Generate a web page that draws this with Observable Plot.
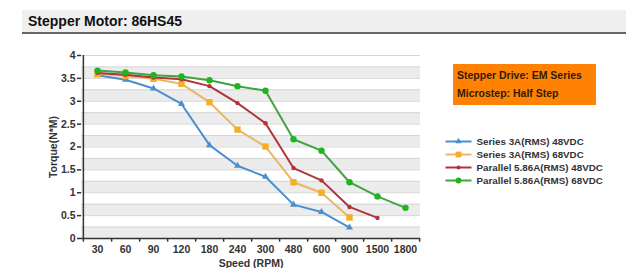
<!DOCTYPE html>
<html><head><meta charset="utf-8">
<script src="https://cdn.jsdelivr.net/npm/d3@7"></script>
<script src="https://cdn.jsdelivr.net/npm/@observablehq/plot@0.6"></script>
<style>
body{margin:0;background:#fff;font-family:"Liberation Sans",Arial,sans-serif;}
#wrap{position:relative;width:626px;height:268px;overflow:hidden;}
#title{position:absolute;left:22px;top:10px;width:604px;height:22px;background:#efefef;border-bottom:2px solid #666;box-sizing:content-box;}
#title span{position:absolute;left:6px;top:3px;font-size:14px;font-weight:bold;color:#111;}
#chart{position:absolute;left:0;top:34px;}
#box{position:absolute;left:453px;top:64px;width:143px;height:41px;background:#ff8204;font-size:10.5px;font-weight:bold;color:#2e1c06;}
#box div{position:absolute;left:4px;white-space:nowrap;}
#legend{position:absolute;left:440px;top:132px;}
</style></head>
<body><div id="wrap">
<div id="title"><span>Stepper Motor: 86HS45</span></div>
<div id="chart"></div>
<div id="box"><div style="top:5px">Stepper Drive: EM Series</div><div style="top:23px">Microstep: Half Step</div></div>
<div id="legend"></div>
</div>
<script>
const categories = ["30","60","90","120","180","240","300","480","600","900","1500","1800"];
const seriesNames = ["Series 3A(RMS) 48VDC","Series 3A(RMS) 68VDC","Parallel 5.86A(RMS) 48VDC","Parallel 5.86A(RMS) 68VDC"];
const series3A48 = [3.57,3.47,3.28,2.94,2.04,1.59,1.35,0.74,0.58,0.24];
const series3A68 = [3.60,3.55,3.49,3.38,2.98,2.38,2.01,1.23,1.00,0.46];
const parallel48 = [3.62,3.58,3.52,3.48,3.33,2.96,2.52,1.54,1.27,0.69,0.45];
const parallel68 = [3.67,3.63,3.57,3.54,3.46,3.33,3.23,2.17,1.92,1.23,0.92,0.67];
const yTicks = [0,0.5,1,1.5,2,2.5,3,3.5,4];

const lineColors = ["#4a8fcf","#e6b866","#b0343c","#42a342"];
const dotColors = ["#4a8fcf","#f4ae2a","#b0343c","#1fb51f"];
const symbols = ["triangle","square","circle","circle"];
const radii = [2.6,3.6,2.2,3.2];

const allValues = [series3A48, series3A68, parallel48, parallel68];
const data = allValues.flatMap((vals,i)=>vals.map((v,j)=>({speed:categories[j], torque:v, series:seriesNames[i], idx:i})));

const bands = d3.range(0,16).map(k=>({lo:k*0.25, hi:(k+1)*0.25, grey:k%2===0}));
const W=626, H=234, mL=81, mR=206;
const bw = (W-mL-mR)/categories.length;

const font = {fontFamily:"'Liberation Sans',Arial,sans-serif", fontSize:"10.5px", fontWeight:"bold", color:"#333", background:"transparent"};

const marks = [
  Plot.rect(bands.filter(d=>d.grey), {y1:"lo", y2:"hi", fill:"#ececec"}),
  Plot.ruleY(bands.map(d=>d.hi), {stroke:"#d6d6d6", strokeWidth:1}),
  Plot.axisY({ticks:yTicks, tickSize:4, tickPadding:2, tickFormat:d=>String(d), label:"Torque(N*M)", labelAnchor:"center", labelArrow:"none", labelOffset:32, stroke:"#333", strokeWidth:1.5}),
  Plot.axisX({tickSize:0, tickPadding:7, label:"Speed (RPM)", labelAnchor:"center", labelArrow:"none", labelOffset:28}),
  Plot.ruleX(categories, {x:d=>d, dx:bw/2, y1:0, y2:-0.08, stroke:"#333", strokeWidth:1.5}),
  Plot.ruleX([categories[0]], {x:d=>d, dx:-bw/2, y1:-0.08, y2:4, stroke:"#333", strokeWidth:1.5}),
  Plot.ruleY([0], {stroke:"#333", strokeWidth:1.5})
];
seriesNames.forEach((s,i)=>{
  const d = data.filter(r=>r.idx===i);
  marks.push(Plot.line(d, {x:"speed", y:"torque", stroke:lineColors[i], strokeWidth:2}));
  marks.push(Plot.dot(d, {x:"speed", y:"torque", fill:dotColors[i], symbol:symbols[i], r:radii[i], stroke:"none"}));
});

const chart = Plot.plot({
  width:W, height:H, marginLeft:mL, marginRight:mR, marginTop:21, marginBottom:30,
  style:font,
  x:{type:"band", domain:categories, padding:0},
  y:{domain:[0,4]},
  marks
});
document.getElementById("chart").append(chart);

// legend
const legendRows = seriesNames.map((s,i)=>({name:s, i}));
const lm = [];
legendRows.forEach(r=>{
  lm.push(Plot.link([r], {x1:()=>5, x2:()=>31, y1:"name", y2:"name", stroke:lineColors[r.i], strokeWidth:2}));
  lm.push(Plot.dot([r], {x:()=>18, y:"name", fill:dotColors[r.i], symbol:symbols[r.i], r:radii[r.i]*0.9}));
});
lm.push(Plot.text(legendRows, {x:()=>36, y:"name", text:"name", textAnchor:"start", fill:"#333"}));
const legend = Plot.plot({
  width:186, height:56, margin:0,
  style:{...font, fontSize:"9.8px"},
  x:{domain:[0,186], range:[0,186], axis:null},
  y:{type:"point", domain:seriesNames, range:[8,48], padding:0, axis:null},
  marks:lm
});
document.getElementById("legend").append(legend);
</script>
</body></html>
